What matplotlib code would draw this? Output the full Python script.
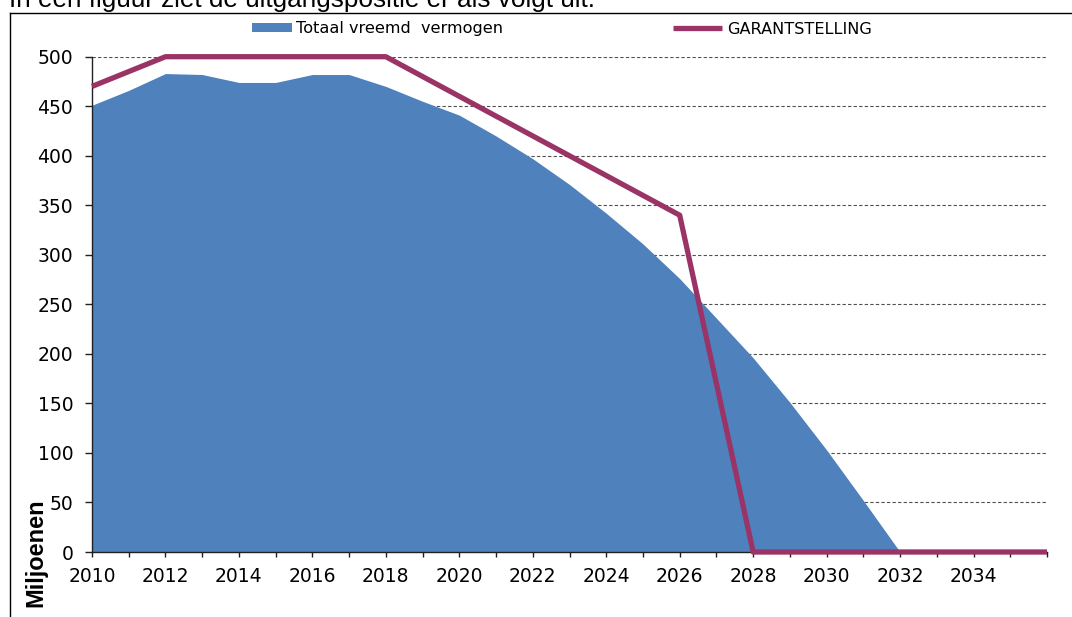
import matplotlib.pyplot as plt
from matplotlib.patches import Patch
from matplotlib.lines import Line2D

# --- data ---
jaren = list(range(2010, 2037))
vreemd_vermogen = [451, 466, 483, 482, 474, 474, 482, 482, 470, 455,
                   441, 420, 397, 371, 342, 311, 276, 236, 196, 151,
                   103, 52, 0, 0, 0, 0, 0]
garantstelling = [470, 485, 500, 500, 500, 500, 500, 500, 500, 480,
                  460, 440, 420, 400, 380, 360, 340, 170, 0, 0,
                  0, 0, 0, 0, 0, 0, 0]
x_labels = [str(j) if (j % 2 == 0 and j < 2036) else "" for j in jaren]
y_ticks = list(range(0, 501, 50))

BLAUW = "#4F81BD"
PAARS = "#9B3466"
W, H = 1072, 617

fig = plt.figure(figsize=(W / 100, H / 100), dpi=100)
ax = fig.add_axes([92 / W, 1 - 552 / H, (1047 - 92) / W, (552 - 56.7) / H])

ax.fill_between(jaren, vreemd_vermogen, 0, color=BLAUW, linewidth=0, zorder=2)
ax.plot(jaren, garantstelling, color=PAARS, linewidth=3.8,
        solid_capstyle="butt", clip_on=False, zorder=3)

ax.set_xlim(2010, 2036)
ax.set_ylim(0, 500)
ax.set_xticks(jaren)
ax.set_xticklabels(x_labels)
ax.set_yticks(y_ticks)

# stippellijnen achter het vlak
ax.set_axisbelow(True)
ax.grid(axis="y", color="#505050", linewidth=0.8, linestyle=(0, (3, 2)))
ax.grid(axis="x", visible=False)

for s in ["top", "right"]:
    ax.spines[s].set_visible(False)
for s in ["left", "bottom"]:
    ax.spines[s].set_color("#202020")
    ax.spines[s].set_linewidth(1)

ax.tick_params(axis="y", direction="out", length=5, width=1, pad=8.5,
               labelsize=13.5, color="#202020")
ax.tick_params(axis="x", direction="out", length=3.5, width=1, pad=7,
               labelsize=13.5, color="#202020")

# legenda: twee losse stukken, zoals in het origineel
fig.legend(handles=[Patch(facecolor=BLAUW, edgecolor="none", label="Totaal vreemd  vermogen")],
           loc="center left", bbox_to_anchor=(252 / W, 1 - 29 / H), frameon=False,
           borderpad=0, borderaxespad=0, handlelength=2.5, handleheight=0.45,
           handletextpad=0.25, fontsize=11.6)
fig.legend(handles=[Line2D([], [], color=PAARS, linewidth=3.8, solid_capstyle="butt",
                           label="GARANTSTELLING")],
           loc="center left", bbox_to_anchor=(673 / W, 1 - 29 / H), frameon=False,
           borderpad=0, borderaxespad=0, handlelength=3.05,
           handletextpad=0.3, fontsize=11.6)

# as-titel linksonder
fig.text(36 / W, 1 - 553 / H, "Miljoenen", rotation=90, ha="center", va="center",
         fontsize=17, fontweight="bold", family="Liberation Sans")

# tekst boven de figuur (bovenkant valt buiten beeld, net als in het origineel)
fig.text(9 / W, 1 - 7 / H, "In een figuur ziet de uitgangspositie er als volgt uit:",
         ha="left", va="baseline", fontsize=18.8, family="Liberation Sans")

# kader rond de grafiek
fig.add_artist(Line2D([9.5 / W, 9.5 / W], [0, 1 - 12.5 / H], color="black", linewidth=1))
fig.add_artist(Line2D([9.5 / W, 1], [1 - 12.5 / H, 1 - 12.5 / H], color="black", linewidth=1))

fig.savefig("out.png", dpi=100)
